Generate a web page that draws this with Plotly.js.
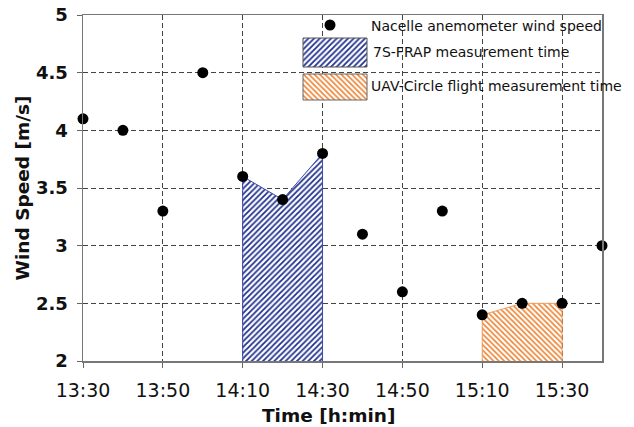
<!DOCTYPE html>
<html>
<head>
<meta charset="utf-8">
<script src="https://cdn.plot.ly/plotly-3.0.1.min.js"></script>
<style>html,body{margin:0;padding:0;background:#fff;}#chart{width:634px;height:427px;}</style>
</head>
<body>
<div id="chart"></div>
<script>
// ---- data ----
const day = '2020-01-01 ';
const times = ['13:30','13:40','13:50','14:00','14:10','14:20','14:30','14:40','14:50','15:00','15:10','15:20','15:30','15:40'];
const windSpeed = [4.1, 4.0, 3.3, 4.5, 3.6, 3.4, 3.8, 3.1, 2.6, 3.3, 2.4, 2.5, 2.5, 3.0];
const frapTimes = ['14:10','14:20','14:30'];
const frapSpeed = [3.6, 3.4, 3.8];
const uavTimes = ['15:10','15:20','15:30'];
const uavSpeed = [2.4, 2.5, 2.5];
const xTickLabels = ['13:30','13:50','14:10','14:30','14:50','15:10','15:30'];
const yTickValues = [2, 2.5, 3, 3.5, 4, 4.5, 5];
const legendLabels = ['Nacelle anemometer wind speed', '7S-FRAP measurement time', 'UAV-Circle flight measurement time'];
const xRange = ['13:30', '15:40'];
const yRange = [2, 5];

// ---- helpers ----
const toDate = t => day + t;
function areaPolygon(ts, vs) {
  const x = [ts[0]].concat(ts, [ts[ts.length - 1]]).map(toDate);
  const y = [yRange[0]].concat(vs, [yRange[0]]);
  return {x, y};
}
const FONT = 'DejaVu Sans, Verdana, sans-serif';
const bluePattern = {shape: '/', fgcolor: '#22318f', bgcolor: '#ffffff', size: 4, solidity: 0.45, fillmode: 'replace'};
const orangePattern = {shape: '\\', fgcolor: '#ee8230', bgcolor: '#ffffff', size: 3.8, solidity: 0.42, fillmode: 'replace'};

const frapArea = areaPolygon(frapTimes, frapSpeed);
const uavArea = areaPolygon(uavTimes, uavSpeed);

const traces = [
  {x: frapArea.x, y: frapArea.y, type: 'scatter', mode: 'lines', fill: 'toself',
   line: {color: '#3b4cae', width: 1}, fillpattern: bluePattern, hoverinfo: 'skip', showlegend: false},
  {x: uavArea.x, y: uavArea.y, type: 'scatter', mode: 'lines', fill: 'toself',
   line: {color: '#f0a060', width: 1}, fillpattern: orangePattern, hoverinfo: 'skip', showlegend: false},
  {x: times.map(toDate), y: windSpeed, type: 'scatter', mode: 'markers', cliponaxis: false,
   marker: {color: '#000', size: 11}, name: legendLabels[0], showlegend: false}
];

// ---- custom legend (drawn on an overlay axis in pixel units) ----
const L = {x0: 83, x1: 602, yTop: 15, yBot: 361};
const rect = (x0, y0, x1, y1) => ({x: [x0, x1, x1, x0, x0], y: [y0, y0, y1, y1, y0]});
const sw1 = rect(303, 38, 367, 67);
const sw2 = rect(303, 74, 367, 100);
traces.push(
  {x: [330], y: [25], xaxis: 'x2', yaxis: 'y2', type: 'scatter', mode: 'markers', cliponaxis: false,
   marker: {color: '#000', size: 11}, hoverinfo: 'skip', showlegend: false},
  {x: sw1.x, y: sw1.y, xaxis: 'x2', yaxis: 'y2', type: 'scatter', mode: 'lines', fill: 'toself',
   line: {color: '#555', width: 1}, fillpattern: bluePattern, hoverinfo: 'skip', showlegend: false},
  {x: sw2.x, y: sw2.y, xaxis: 'x2', yaxis: 'y2', type: 'scatter', mode: 'lines', fill: 'toself',
   line: {color: '#666', width: 1}, fillpattern: orangePattern, hoverinfo: 'skip', showlegend: false}
);

const legendText = (txt, x, y) => ({text: txt, x: x, y: y, xref: 'x2', yref: 'y2', xanchor: 'left', yanchor: 'middle',
  showarrow: false, font: {family: FONT, size: 14, color: '#111'}});

const layout = {
  width: 634, height: 427,
  margin: {l: 83, r: 32, t: 15, b: 66},
  paper_bgcolor: '#fff', plot_bgcolor: '#fff',
  showlegend: false,
  font: {family: FONT, color: '#111'},
  xaxis: {
    type: 'date', range: xRange.map(toDate),
    tickmode: 'array', tickvals: xTickLabels.map(toDate), ticktext: xTickLabels,
    tickfont: {family: FONT, size: 19, color: '#111'},
    ticks: 'outside', ticklen: 5, tickcolor: '#666', ticklabelstandoff: 7,
    showline: true, linecolor: '#777', linewidth: 1.5, mirror: true,
    showgrid: true, gridcolor: '#444', gridwidth: 1, griddash: '5px,3px',
    zeroline: false, automargin: false
  },
  yaxis: {
    range: yRange, tickmode: 'array', tickvals: yTickValues,
    tickfont: {family: FONT, size: 18, color: '#111', weight: 'bold'},
    ticks: 'outside', ticklen: 5, tickcolor: '#666', ticklabelstandoff: 5,
    showline: true, linecolor: '#777', linewidth: 1.5, mirror: true,
    showgrid: true, gridcolor: '#444', gridwidth: 1, griddash: '5px,3px',
    zeroline: false, automargin: false,
    title: {text: 'Wind Speed [m/s]', font: {family: FONT, size: 18.5, color: '#111', weight: 'bold'}, standoff: 1}
  },
  xaxis2: {overlaying: 'x', anchor: 'y2', range: [L.x0, L.x1], visible: false, fixedrange: true},
  yaxis2: {overlaying: 'y', anchor: 'x2', range: [L.yBot, L.yTop], visible: false, fixedrange: true},
  annotations: [
    legendText(legendLabels[0], 369, 26),
    legendText(legendLabels[1], 371, 52),
    legendText(legendLabels[2], 369, 86),
    {text: 'Time [h:min]', xref: 'paper', yref: 'paper', x: (328.5 - 83) / 519, y: (361 - 415) / 346,
     xanchor: 'center', yanchor: 'middle', showarrow: false,
     font: {family: FONT, size: 18.5, color: '#111', weight: 'bold'}}
  ]
};

Plotly.newPlot('chart', traces, layout, {staticPlot: true, displayModeBar: false});
</script>
</body>
</html>
